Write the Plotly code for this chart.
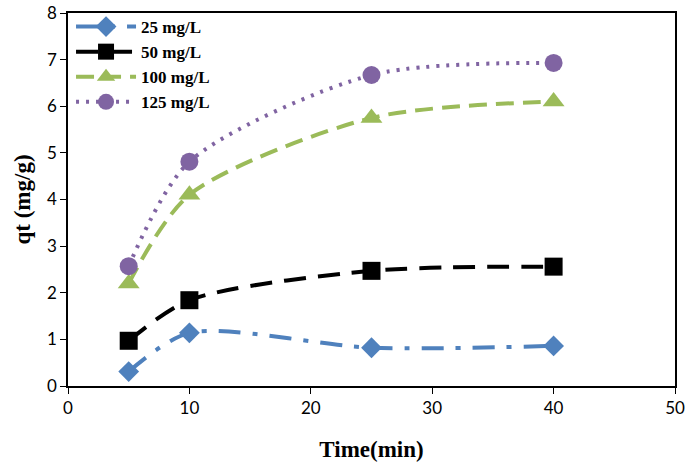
import plotly.graph_objects as go

time = [5, 10, 25, 40]
q25 = [0.31, 1.14, 0.82, 0.86]
q50 = [0.97, 1.84, 2.47, 2.56]
q100 = [2.2, 4.1, 5.75, 6.1]
q125 = [2.57, 4.81, 6.67, 6.93]

names = ['25 mg/L', '50 mg/L', '100 mg/L', '125 mg/L']
colors = ['#4F81BD', '#000000', '#9BBB59', '#8064A2']
symbols = ['diamond', 'square', 'triangle-up', 'circle']
sizes = [16, 18, 19, 18]
dashes = ['22px,12px,5px,12px', '22px,12px', '18px,9px', '3px,7px']

fig = go.Figure()
for name, y, c, s, sz, d in zip(names, [q25, q50, q100, q125], colors, symbols, sizes, dashes):
    fig.add_trace(go.Scatter(x=time, y=y, name='<b>' + name + '</b>',
                             mode='lines+markers',
                             line=dict(color=c, width=4, dash=d, shape='spline', smoothing=0.8),
                             marker=dict(color=c, symbol=s, size=sz)))

axis_font = dict(family='Liberation Serif', size=23, color='black')
tick_font = dict(family='Lato', size=17, color='black')

fig.update_layout(
    width=685, height=467,
    margin=dict(l=68, r=10, t=12, b=81),
    plot_bgcolor='white', paper_bgcolor='white',
    showlegend=True,
    legend=dict(x=0.005, y=1.008, xanchor='left', yanchor='top',
                font=dict(family='Liberation Serif', size=17, color='black'),
                bgcolor='rgba(0,0,0,0)', itemwidth=60, tracegroupgap=0),
    xaxis=dict(range=[0, 50], dtick=10, showgrid=False, zeroline=False,
               showline=True, linecolor='black', linewidth=1.5, mirror=True,
               ticks='outside', ticklen=6, tickcolor='black', automargin=False,
               tickfont=tick_font,
               title=dict(text='<b>Time(min)</b>', font=axis_font, standoff=24)),
    yaxis=dict(range=[0, 8], dtick=1, showgrid=False, zeroline=False,
               showline=True, linecolor='black', linewidth=1.5, mirror=True,
               ticks='outside', ticklen=6, tickcolor='black', automargin=False,
               tickfont=tick_font,
               title=dict(text='<b>qt (mg/g)</b>', font=axis_font, standoff=10)),
)

# drop the default 8px body margin so the figure fills the window exactly
fig.write_html("out.html", config={'displayModeBar': False},
               post_script="document.body.style.margin='0px';")
